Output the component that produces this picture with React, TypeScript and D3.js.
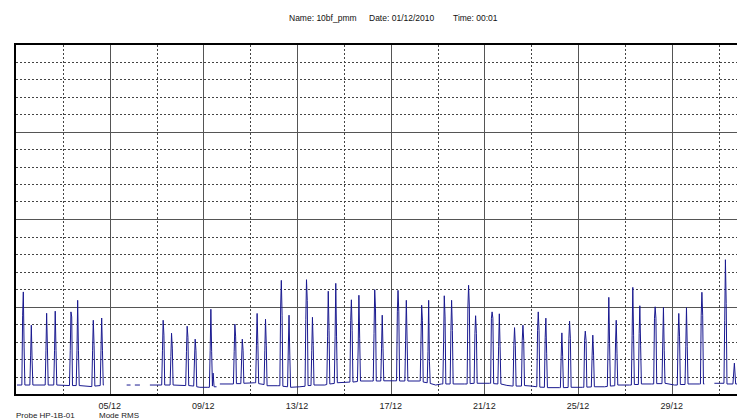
import * as d3 from "d3"

// hours from 01/12/2010 00:00, value (chart units, 10 per grid row); null = no reading
const readings: [number, number | null][] = [
  [1, 5.7],
  [6, 5.7], [6.8, 45.6], [7.5, 58.9], [8.3, 27.4], [9.1, 5.7],
  [14.2, 5.7], [15, 22.8], [15.7, 39.9], [16.5, 19.9], [17.3, 5.7],
  [29.9, 5.7], [30.7, 25.6], [31.4, 46.7], [32.2, 27.4], [33, 5.7],
  [38.7, 5.7], [39.5, 25.6], [40.2, 47.9], [41, 25.6], [41.8, 5.7],
  [54.8, 5.4], [55.6, 25.6], [56.3, 47.5], [57.1, 44.6], [57.9, 5.4],
  [61.7, 5.4], [62.5, 25.6], [63.2, 54.1], [64, 25.6], [64.8, 5.4],
  [77.7, 4.8], [78.5, 25.6], [79.2, 42.7], [80, 28.5], [80.8, 5.1],
  [86.3, 5.4], [87.1, 25.6], [87.8, 44], [88.6, 25.6], [89.4, 5.7],
  [90.1, 5.7], [90.6, null],
  [113.4, 5.7], [117.4, 5.7], [118, null],
  [121.8, 5.7], [127, 5.7], [128, null],
  [137.2, 5.7],
  [149.3, 5.7], [150.1, 25.6], [150.8, 42.7], [151.6, 34.2], [152.4, 5.7],
  [157.9, 5.7], [158.7, 22], [159.4, 35.3], [160.2, 26.8], [161, 5.7],
  [173.9, 5.4], [174.7, 25], [175.4, 39.3], [176.2, 33], [177, 5.4],
  [182.1, 5.1], [182.9, 20], [183.6, 31.9], [184.4, 25.6], [185.2, 4.7],
  [188.4, 4.4], [196.6, 4.4],
  [198.2, 4.4], [199, 25.6], [199.7, 49], [200.5, 25], [201.3, 5.1], [202, 12.5], [203, 4.7],
  [205.5, 4.7], [206, null],
  [208.9, 6.3],
  [222.8, 6.3], [223.6, 25], [224.3, 40.5], [225.1, 33.2], [225.9, 6.5],
  [230.4, 6.5], [231.2, 20], [231.9, 31.9], [232.7, 25.6], [233.5, 6.7],
  [244.7, 7.0],
  [245.6, 7.0], [246.4, 28.5], [247.1, 46.6], [247.9, 28.5], [248.7, 6.5],
  [254.2, 6.0], [255, 25.6], [255.7, 43.3], [256.5, 28.5], [257.3, 5.3],
  [268.3, 5.3],
  [270.4, 5.3], [271.2, 50.3], [271.9, 65.5], [272.7, 45.6], [273.5, 5.0],
  [278.3, 4.7], [279.1, 28], [279.8, 45.6], [280.6, 22.8], [281.4, 4.4],
  [290.8, 4.7],
  [296.2, 5.0], [297, 43.3], [297.7, 65.9], [298.5, 54], [299.3, 5.4],
  [302.3, 5.4], [303.1, 25.6], [303.8, 44.4], [304.6, 28.5], [305.4, 5.7],
  [316.4, 5.7],
  [318.5, 6.0], [319.3, 33.2], [320, 59.3], [320.8, 37], [321.6, 6.3],
  [326.2, 6.6], [327, 33.2], [327.7, 63.8], [328.5, 33.2], [329.3, 7.0],
  [342.2, 7.4], [343, 42.7], [343.7, 54.4], [344.5, 37], [345.3, 7.4],
  [349.9, 7.7], [350.7, 28], [351.4, 57], [352.2, 32.5], [353, 8.0],
  [364.5, 8.0],
  [366.1, 8.0], [366.9, 35], [367.6, 60.2], [368.4, 49.6], [369.2, 8.0],
  [373.8, 8.0], [374.6, 26.8], [375.3, 45.6], [376.1, 26.8], [376.9, 8.1],
  [388.1, 8.1],
  [390, 8.1], [390.8, 47.5], [391.5, 59.8], [392.3, 47.5], [393.1, 8.0],
  [398.5, 8.0], [399.3, 31.3], [400, 54.1], [400.8, 31.3], [401.6, 8.0],
  [413.7, 8.0],
  [414.2, 8.0], [415, 30], [415.7, 51.3], [416.5, 42.7], [417.3, 7.4],
  [421.4, 7.0], [422.2, 25], [422.9, 54.1], [423.7, 19], [424.5, 6.6],
  [430, 5.7], [436.2, 6.3],
  [437.4, 6.3], [438.2, 30], [438.9, 56.7], [439.7, 44.6], [440.5, 6.3],
  [444.9, 6.3], [445.7, 37], [446.4, 54.1], [447.2, 37], [448, 6.3],
  [459.7, 6.3],
  [462.3, 6.3], [463.1, 50.3], [463.8, 62.7], [464.6, 50.3], [465.4, 6.5],
  [469.5, 6.7], [470.3, 35.3], [471, 45.3], [471.8, 35.3], [472.6, 6.7],
  [485.4, 6.7],
  [486.4, 6.7], [487.2, 43.9], [487.9, 47.5], [488.7, 43.9], [489.5, 6.5],
  [493.8, 6.3], [494.6, 27.5], [495.3, 46.4], [496.1, 27.5], [496.9, 6.3],
  [503, 5.5], [508.9, 5.1],
  [509.4, 5.1], [510.2, 28.5], [510.9, 38.5], [511.7, 28.5], [512.5, 5.1],
  [518, 5.1], [518.8, 31.3], [519.5, 39.9], [520.3, 31.3], [521.1, 5.4],
  [528, 5.1],
  [533.7, 4.7], [534.5, 37], [535.2, 47.5], [536, 37], [536.8, 4.5],
  [541.5, 4.4], [542.3, 33], [543, 43.9], [543.8, 23.9], [544.6, 4.2],
  [557, 4.2],
  [557.9, 4.2], [558.7, 22.2], [559.4, 35.5], [560.2, 22.2], [561, 4.2],
  [565.8, 4.3], [566.6, 32.5], [567.3, 42.2], [568.1, 32.5], [568.9, 4.4],
  [580.6, 4.4],
  [581.9, 4.4], [582.7, 31.3], [583.4, 36.5], [584.2, 31.3], [585, 4.5],
  [589.6, 4.6], [590.4, 22.8], [591.1, 34.2], [591.9, 22.8], [592.7, 4.7],
  [603.1, 4.7],
  [606, 4.9], [606.8, 29.6], [607.5, 55.8], [608.3, 29.6], [609.1, 5.1],
  [613.6, 5.3], [614.4, 30], [615.1, 42.7], [615.9, 23.9], [616.7, 5.7],
  [628.7, 5.7],
  [630.6, 5.7], [631.4, 34.2], [632.1, 61.5], [632.9, 34.2], [633.7, 6.0],
  [637.8, 6.0], [638.6, 35], [639.3, 51], [640.1, 28.5], [640.9, 6.3],
  [651.2, 6.3],
  [653.5, 6.3], [654.3, 43.9], [655, 50.4], [655.8, 43.9], [656.6, 6.5],
  [662, 6.5], [662.8, 30], [663.5, 50], [664.3, 25.6], [665.1, 6.7],
  [674.8, 5.7],
  [677.7, 5.7], [678.5, 33.2], [679.2, 46.6], [680, 33.2], [680.8, 6.0],
  [685.6, 6.0], [686.4, 27.5], [687.1, 49.9], [687.9, 27.5], [688.7, 6.3],
  [700.4, 6.3],
  [701.4, 6.3], [702.2, 45.6], [702.9, 58.7], [703.7, 45.6], [704.5, 6.3],
  [705.5, 6.3], [706, null],
  [715.7, 6.7], [721.5, 6.7],
  [725.5, 6.7], [726.3, 42.7], [727, 77.3], [727.8, 52.3], [728.6, 6.3],
  [734.7, 6.3], [736.2, 18.2], [737.5, 6.3], [743, 6.3],
]

const tickLabels = ["05/12", "09/12", "13/12", "17/12", "21/12", "25/12", "29/12"]
const tickHours = [96, 192, 288, 384, 480, 576, 672]
const minorHours = [48, 144, 240, 336, 432, 528, 624, 720]
const gridRows = d3.range(1, 20)

const headerItems = ["Name: 10bf_pmm", "Date: 01/12/2010", "Time: 00:01"]
const footerItems = ["Probe HP-1B-01", "Mode RMS"]

const W = 737
const H = 419
const font = "'Liberation Sans', Arial, sans-serif"

export default function App() {
  const x = d3.scaleLinear().domain([0, 744]).range([16, 742])
  const y = d3.scaleLinear().domain([0, 200]).range([395, 45])
  const crisp = (v: number) => Math.round(v) + 0.5

  const line = d3
    .line<[number, number | null]>()
    .defined((d) => d[1] !== null)
    .x((d) => x(d[0]))
    .y((d) => y(d[1] as number))

  const headerX = [289, 369, 453]
  const footerX = [16, 99]

  return (
    <svg
      width={W}
      height={H}
      style={{ position: "absolute", left: 0, top: 0, background: "#fff" }}
    >
      <rect width={W} height={H} fill="#fff" />

      {headerItems.map((t, i) => (
        <text key={t} x={headerX[i]} y={20.5} fontSize={8.5} fontFamily={font} fill="#111">
          {t}
        </text>
      ))}

      {/* horizontal grid */}
      {gridRows.map((r) => (
        <line
          key={"h" + r}
          x1={16}
          x2={W}
          y1={crisp(y(r * 10)) - 1}
          y2={crisp(y(r * 10)) - 1}
          stroke={r % 5 === 0 ? "#555" : "#444"}
          strokeDasharray={r % 5 === 0 ? undefined : "2,2"}
        />
      ))}

      {/* vertical grid */}
      {minorHours.map((h) => (
        <line
          key={"m" + h}
          x1={crisp(x(h))}
          x2={crisp(x(h))}
          y1={45}
          y2={395}
          stroke="#444"
          strokeDasharray="2,2"
        />
      ))}
      {tickHours.map((h) => (
        <line key={"t" + h} x1={crisp(x(h))} x2={crisp(x(h))} y1={45} y2={395} stroke="#555" />
      ))}

      <path d={line(readings) ?? ""} fill="none" stroke="#1a1a90" strokeWidth={1} />

      {/* frame */}
      <rect x={15} y={44} width={W} height={351} fill="none" stroke="#000" strokeWidth={2} />

      {tickLabels.map((t, i) => (
        <text
          key={t}
          x={x(tickHours[i])}
          y={408.5}
          textAnchor="middle"
          fontSize={9}
          fontFamily={font}
          fill="#222"
        >
          {t}
        </text>
      ))}

      {footerItems.map((t, i) => (
        <text key={t} x={footerX[i]} y={417.5} fontSize={8} fontFamily={font} fill="#222">
          {t}
        </text>
      ))}
    </svg>
  )
}
